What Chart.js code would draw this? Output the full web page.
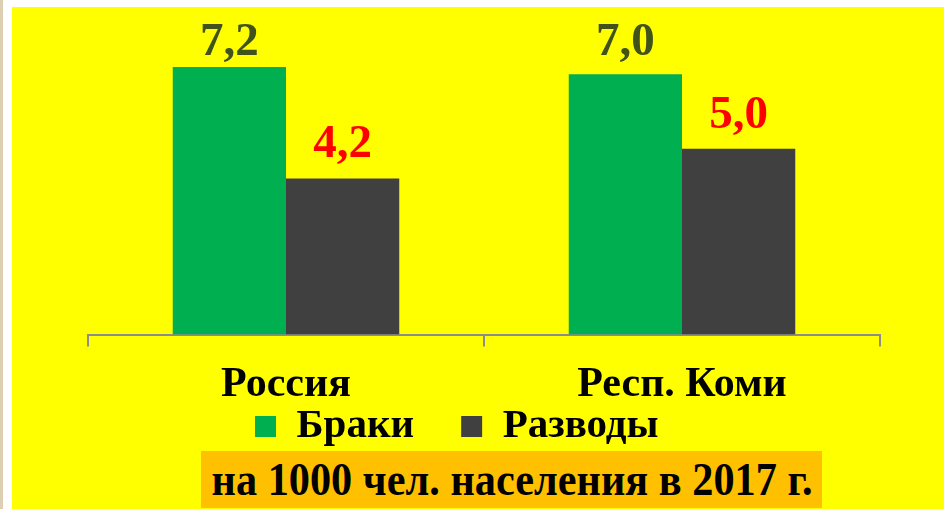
<!DOCTYPE html>
<html>
<head>
<meta charset="utf-8">
<script src="https://cdn.jsdelivr.net/npm/chart.js@4"></script>
<style>
  html, body { margin: 0; padding: 0; background: #fff; }
  #page { position: relative; width: 944px; height: 509px; overflow: hidden; }
  #strip { position: absolute; left: 0; top: 0; width: 3px; height: 509px; background: #dccfb2; }
  #bg { position: absolute; left: 12px; top: 7px; right: 0; bottom: 0; background: #ffff00; }
  #chart-wrap { position: absolute; left: 0; top: 0; width: 944px; height: 509px; }
  #note {
    position: absolute; left: 201px; top: 451px; width: 621px; height: 57px;
    background: #ffc000; color: #000; white-space: nowrap;
    font: bold 46px 'Liberation Serif', 'Times New Roman', serif; line-height: 57px;
  }
  #note span {
    position: absolute; left: 50%; top: 0;
    transform: translateX(-50%) scaleX(0.92);
  }
</style>
</head>
<body>
<div id="page">
  <div id="strip"></div>
  <div id="bg"></div>
  <div id="chart-wrap"><canvas id="chart" width="944" height="509"></canvas></div>
  <div id="note"><span>на 1000 чел. населения в 2017 г.</span></div>
</div>
<script>
// data
const categories = ['Россия', 'Респ. Коми'];
const marriages = [7.2, 7.0];
const divorces = [4.2, 5.0];
const seriesNames = ['Браки', 'Разводы'];

const SERIF = "'Liberation Serif', 'Times New Roman', serif";

// value labels above the bars (no datalabels plugin available offline)
const valueLabels = {
  id: 'valueLabels',
  afterDatasetsDraw(chart) {
    const ctx = chart.ctx;
    const colors = ['#41531a', '#ff0000'];
    ctx.save();
    ctx.font = 'bold 47px ' + SERIF;
    ctx.textAlign = 'center';
    ctx.textBaseline = 'alphabetic';
    chart.data.datasets.forEach((ds, i) => {
      chart.getDatasetMeta(i).data.forEach((bar, j) => {
        const txt = ds.data[j].toFixed(1).replace('.', ',');
        ctx.fillStyle = colors[i];
        ctx.fillText(txt, bar.x, Math.max(bar.y - 21, 55));
      });
    });
    ctx.restore();
  }
};

// legend sits left of centre and a bit lower in the original
const legendShift = {
  id: 'legendShift',
  afterLayout(chart) {
    const lg = chart.legend;
    if (!lg) return;
    const h = lg.height;
    lg.left = 249;
    lg.top = 400;
    lg.bottom = 400 + h;
  }
};

new Chart(document.getElementById('chart'), {
  type: 'bar',
  data: {
    labels: categories,
    datasets: [
      {
        label: seriesNames[0] + '    ',
        data: marriages,
        backgroundColor: '#00b050',
        categoryPercentage: 0.572,
        barPercentage: 1
      },
      {
        label: seriesNames[1],
        data: divorces,
        backgroundColor: '#404040',
        categoryPercentage: 0.572,
        barPercentage: 1
      }
    ]
  },
  options: {
    responsive: false,
    animation: false,
    layout: { padding: { left: 88, right: 64, top: 0, bottom: 29 } },
    plugins: {
      tooltip: { enabled: false },
      legend: {
        position: 'bottom',
        align: 'start',
        labels: {
          color: '#000',
          font: { family: SERIF, size: 41, weight: 'bold' },
          boxWidth: 21,
          boxHeight: 21,
          padding: 6
        }
      }
    },
    scales: {
      x: {
        grid: { display: true, drawOnChartArea: false, tickLength: 12, color: '#8c8c8c', lineWidth: 2 },
        border: { display: true, color: '#8c8c8c', width: 2 },
        ticks: {
          color: '#000',
          padding: 13,
          font: { family: SERIF, size: 42, weight: 'bold', lineHeight: 1.2 }
        }
      },
      y: {
        display: false,
        min: 0,
        max: 9
      }
    }
  },
  plugins: [valueLabels, legendShift]
});
</script>
</body>
</html>
